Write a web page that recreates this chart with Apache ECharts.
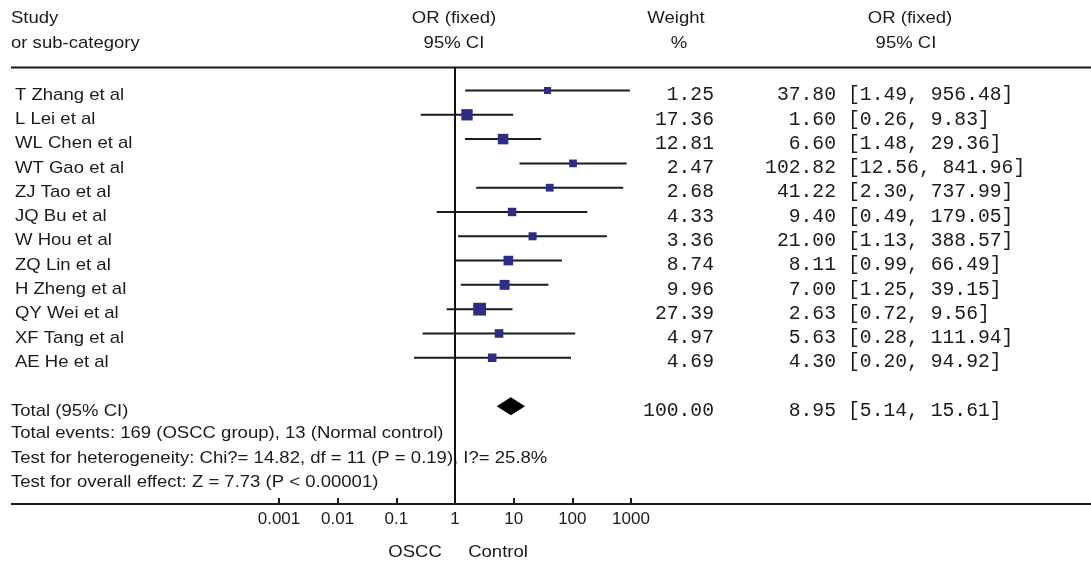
<!DOCTYPE html>
<html>
<head>
<meta charset="utf-8">
<script src="https://cdn.jsdelivr.net/npm/echarts@6/dist/echarts.min.js"></script>
<style>
html,body{margin:0;padding:0;background:#fff;}
#chart{width:1091px;height:563px;}
</style>
</head>
<body>
<div id="chart"></div>
<script>
// ---- data ----
const studies = ['T Zhang et al','L Lei et al','WL Chen et al','WT Gao et al','ZJ Tao et al','JQ Bu et al','W Hou et al','ZQ Lin et al','H Zheng et al','QY Wei et al','XF Tang et al','AE He et al'];
const orValues = [37.80, 1.60, 6.60, 102.82, 41.22, 9.40, 21.00, 8.11, 7.00, 2.63, 5.63, 4.30];
const ciLower  = [1.49, 0.26, 1.48, 12.56, 2.30, 0.49, 1.13, 0.99, 1.25, 0.72, 0.28, 0.20];
const ciUpper  = [956.48, 9.83, 29.36, 841.96, 737.99, 179.05, 388.57, 66.49, 39.15, 9.56, 111.94, 94.92];
const weights  = [1.25, 17.36, 12.81, 2.47, 2.68, 4.33, 3.36, 8.74, 9.96, 27.39, 4.97, 4.69];
const totalLabel = 'Total (95% CI)';
const totalOR = 8.95, totalLower = 5.14, totalUpper = 15.61, totalWeight = 100.00;
const notes = [
  'Total events: 169 (OSCC group), 13 (Normal control)',
  'Test for heterogeneity: Chi?= 14.82, df = 11 (P = 0.19), I?= 25.8%',
  'Test for overall effect: Z = 7.73 (P < 0.00001)'
];
const xTicks = [0.001, 0.01, 0.1, 1, 10, 100, 1000];
const xTickLabels = ['0.001', '0.01', '0.1', '1', '10', '100', '1000'];
const totalRow = 13;
const noteRows = [14, 15, 16];

// ---- styles ----
const SANS = '"Liberation Sans", Arial, sans-serif';
const MONO = '"Liberation Mono", "Courier New", monospace';
const TXT = '#1b1b1b';
const SX = 1.09;
const sansFont = '17px ' + SANS;
const monoFont = '19.7px ' + MONO;
const TEXT_DY = 4.5;

const chart = echarts.init(document.getElementById('chart'), null, {renderer: 'canvas'});

function txt(x, y, text, align, font, sx) {
  return {
    type: 'text', x: x, y: y, scaleX: sx == null ? 1 : sx,
    style: {text: text, x: 0, y: 0, fill: TXT, font: font,
      textAlign: align, textVerticalAlign: 'middle', align: align, verticalAlign: 'middle'}
  };
}

const ciData = studies.map((s, i) => [ciLower[i], ciUpper[i], i]);
const boxData = studies.map((s, i) => [orValues[i], i, weights[i]]);
const textRows = studies.map((s, i) => [1, i]).concat([[1, totalRow]]);
const noteData = noteRows.map(r => [1, r]);

const option = {
  animation: false,
  backgroundColor: '#fff',
  grid: {left: 279, right: 460, top: 67.5, bottom: 59, containLabel: false},
  xAxis: {
    type: 'log', logBase: 10, min: 0.001, max: 1000, splitNumber: 6,
    position: 'bottom',
    axisLine: {show: false, onZero: false},
    axisTick: {show: true, inside: true, length: 6, lineStyle: {color: '#1b1b1b', width: 2}},
    axisLabel: {
      show: true, margin: 7, color: TXT, fontSize: 17, fontFamily: SANS,
      formatter: function (v) {
        let best = 0, bd = Infinity;
        xTicks.forEach((t, k) => { const d = Math.abs(Math.log10(v) - Math.log10(t)); if (d < bd) { bd = d; best = k; } });
        return bd < 0.01 ? xTickLabels[best] : '';
      }
    },
    splitLine: {show: false}
  },
  yAxis: {type: 'value', inverse: true, min: -0.947, max: 17.02, show: false},
  graphic: [
    {type: 'line', shape: {x1: 11, y1: 67.5, x2: 1091, y2: 67.5}, style: {stroke: '#1b1b1b', lineWidth: 2}},
    {type: 'line', shape: {x1: 11, y1: 504, x2: 1091, y2: 504}, style: {stroke: '#1b1b1b', lineWidth: 2}},
    txt(11, 18, 'Study', 'left', sansFont, SX),
    txt(11, 43, 'or sub-category', 'left', sansFont, SX),
    txt(454, 18, 'OR (fixed)', 'center', sansFont, SX),
    txt(454, 43, '95% CI', 'center', sansFont, SX),
    txt(676, 18, 'Weight', 'center', sansFont, SX),
    txt(679, 43, '%', 'center', sansFont, SX),
    txt(910, 18, 'OR (fixed)', 'center', sansFont, SX),
    txt(906, 43, '95% CI', 'center', sansFont, SX),
    txt(415, 552, 'OSCC', 'center', sansFont, SX),
    txt(498, 552, 'Control', 'center', sansFont, SX)
  ],
  series: [
    {
      type: 'custom', name: 'CI', clip: false, z: 2,
      encode: {x: [0, 1], y: 2},
      data: ciData,
      renderItem: function (params, api) {
        const p1 = api.coord([api.value(0), api.value(2)]);
        const p2 = api.coord([api.value(1), api.value(2)]);
        return {type: 'line', shape: {x1: p1[0], y1: p1[1], x2: p2[0], y2: p2[1]},
          style: {stroke: '#1b1b1b', lineWidth: 2}};
      },
      markLine: {
        silent: true, symbol: 'none', animation: false,
        label: {show: false},
        lineStyle: {color: '#111', width: 2, type: 'solid'},
        data: [{xAxis: 1}]
      }
    },
    {
      type: 'scatter', name: 'OR', z: 3,
      symbol: 'rect',
      symbolSize: function (val) { return 5.5 + 1.4 * Math.sqrt(val[2]); },
      itemStyle: {color: '#2d2d86', opacity: 1},
      data: boxData
    },
    {
      type: 'custom', name: 'Total', clip: false, z: 3,
      encode: {x: [0, 1, 2], y: 3},
      data: [[totalLower, totalOR, totalUpper, totalRow]],
      renderItem: function (params, api) {
        const r = api.value(3);
        const pl = api.coord([api.value(0), r]);
        const pe = api.coord([api.value(1), r]);
        const ph = api.coord([api.value(2), r]);
        const h = 9;
        return {type: 'polygon',
          shape: {points: [[pl[0], pl[1]], [pe[0], pe[1] - h], [ph[0], ph[1]], [pe[0], pe[1] + h]]},
          style: {fill: '#000'}};
      }
    },
    {
      type: 'custom', name: 'Table', clip: false, z: 1,
      encode: {x: 0, y: 1},
      data: textRows,
      renderItem: function (params, api) {
        const i = params.dataIndex;
        const y = api.coord([1, api.value(1)])[1] + TEXT_DY;
        let name, w, est, lo, hi, nameX;
        if (i < studies.length) {
          name = studies[i]; w = weights[i]; est = orValues[i]; lo = ciLower[i]; hi = ciUpper[i]; nameX = 15;
        } else {
          name = totalLabel; w = totalWeight; est = totalOR; lo = totalLower; hi = totalUpper; nameX = 11;
        }
        return {type: 'group', children: [
          txt(nameX, y, name, 'left', sansFont, SX),
          txt(714, y, w.toFixed(2), 'right', monoFont, 1),
          txt(836, y, est.toFixed(2), 'right', monoFont, 1),
          txt(848, y, '[' + lo.toFixed(2) + ', ' + hi.toFixed(2) + ']', 'left', monoFont, 1)
        ]};
      }
    },
    {
      type: 'custom', name: 'Notes', clip: false, z: 1,
      encode: {x: 0, y: 1},
      data: noteData,
      renderItem: function (params, api) {
        const y = api.coord([1, api.value(1)])[1] + 3;
        return txt(11, y, notes[params.dataIndex], 'left', sansFont, SX);
      }
    }
  ]
};
chart.setOption(option);
</script>
</body>
</html>
